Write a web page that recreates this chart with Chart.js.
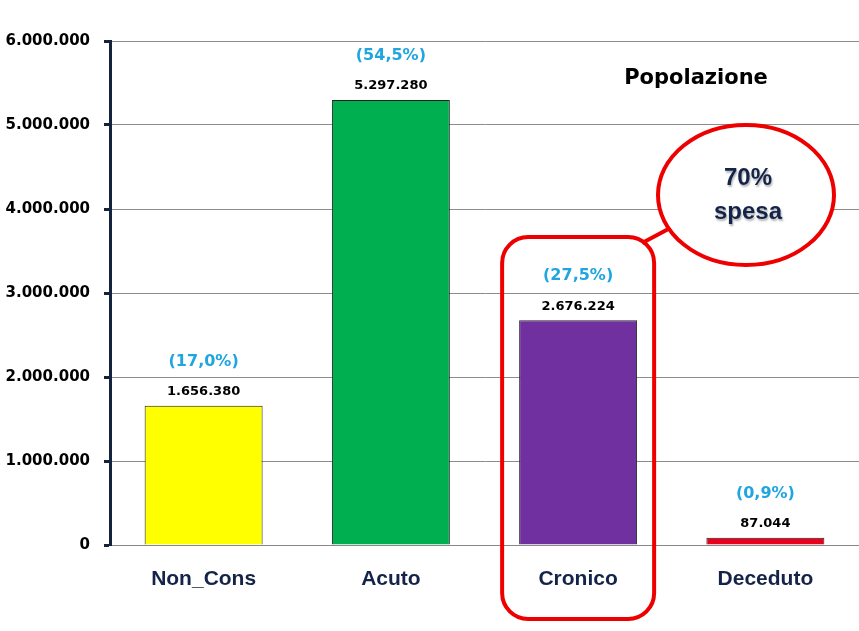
<!DOCTYPE html>
<html>
<head>
<meta charset="utf-8">
<script src="https://cdn.jsdelivr.net/npm/chart.js@4"></script>
<style>
  html, body { margin: 0; padding: 0; background: #fff; }
  #wrap { width: 859px; height: 631px; }
</style>
</head>
<body>
<div id="wrap"><canvas id="chart" width="859" height="631"></canvas></div>
<script>
// chart data
const categories = ["Non_Cons", "Acuto", "Cronico", "Deceduto"];
const population = [1656380, 5297280, 2676224, 87044];
const shares = [17.0, 54.5, 27.5, 0.9];
const barColors = ["#ffff00", "#00b050", "#7030a0", "#e8001c"];
const yTicks = [0, 1000000, 2000000, 3000000, 4000000, 5000000, 6000000];

const fmt = (v) => Math.round(v).toString().replace(/\B(?=(\d{3})+(?!\d))/g, ".");
const fmtPct = (p) => "(" + p.toFixed(1).replace(".", ",") + "%)";

// value and percent labels above each bar
const barLabels = {
    id: "barLabels",
    afterDatasetsDraw(chart) {
        const ctx = chart.ctx;
        const meta = chart.getDatasetMeta(0);
        ctx.save();
        ctx.textAlign = "center";
        ctx.textBaseline = "middle";
        meta.data.forEach((bar, i) => {
            ctx.fillStyle = "#000";
            ctx.font = "bold 13px 'DejaVu Sans'";
            ctx.fillText(fmt(population[i]), bar.x, bar.y - 14);
            ctx.fillStyle = "#1fa5e0";
            ctx.font = "bold 16px 'DejaVu Sans'";
            ctx.fillText(fmtPct(shares[i]), bar.x, bar.y - 44);
        });
        ctx.restore();
    }
};

// title and the "70% spesa" callout
const callout = {
    id: "callout",
    afterDraw(chart) {
        const ctx = chart.ctx;
        const x = chart.scales.x;
        const cx = x.getPixelForValue(2);
        ctx.save();

        ctx.fillStyle = "#000";
        ctx.font = "bold 21px 'DejaVu Sans'";
        ctx.textAlign = "center";
        ctx.textBaseline = "middle";
        ctx.fillText("Popolazione", 696, 79);

        ctx.strokeStyle = "#ee0000";
        ctx.lineWidth = 4;
        ctx.beginPath();
        ctx.roundRect(cx - 76, 237, 152, 382, 26);
        ctx.stroke();

        ctx.beginPath();
        ctx.moveTo(cx + 64, 243);
        ctx.lineTo(cx + 94, 227);
        ctx.stroke();

        ctx.beginPath();
        ctx.ellipse(746, 195, 88, 70, 0, 0, Math.PI * 2);
        ctx.fillStyle = "#fff";
        ctx.fill();
        ctx.stroke();

        ctx.fillStyle = "#142449";
        ctx.font = "bold 24px 'Liberation Sans'";
        ctx.shadowColor = "rgba(0,0,0,0.3)";
        ctx.shadowOffsetX = 1;
        ctx.shadowOffsetY = 2;
        ctx.shadowBlur = 2;
        ctx.fillText("70%", 748, 178);
        ctx.fillText("spesa", 748, 212);
        ctx.restore();
    }
};

new Chart(document.getElementById("chart"), {
    type: "bar",
    data: {
        labels: categories,
        datasets: [{
            data: population,
            backgroundColor: barColors,
            borderColor: "#222",
            borderWidth: 1,
            categoryPercentage: 1,
            barPercentage: 0.63
        }]
    },
    options: {
        responsive: false,
        animation: false,
        layout: { padding: { top: 41, right: 0, bottom: 0, left: 0 } },
        plugins: {
            legend: { display: false },
            tooltip: { enabled: false }
        },
        scales: {
            x: {
                grid: { display: false, drawTicks: false },
                border: { color: "#888", width: 1 },
                ticks: {
                    color: "#142449",
                    font: { family: "'Liberation Sans'", size: 21, weight: "bold" },
                    padding: 22
                },
                afterFit(scale) { scale.height = 86; }
            },
            y: {
                min: 0,
                max: 6000000,
                afterBuildTicks(scale) {
                    scale.ticks = yTicks.map((v) => ({ value: v }));
                },
                grid: { color: "#8c8c8c", lineWidth: 1, tickLength: 6, tickColor: "#14233d", tickWidth: 3 },
                border: { color: "#14233d", width: 3 },
                ticks: {
                    color: "#000",
                    padding: 14,
                    font: { family: "'DejaVu Sans'", size: 15, weight: "bold" },
                    callback: (v) => fmt(v)
                },
                afterFit(scale) { scale.width = 110; }
            }
        }
    },
    plugins: [barLabels, callout]
});
</script>
</body>
</html>
